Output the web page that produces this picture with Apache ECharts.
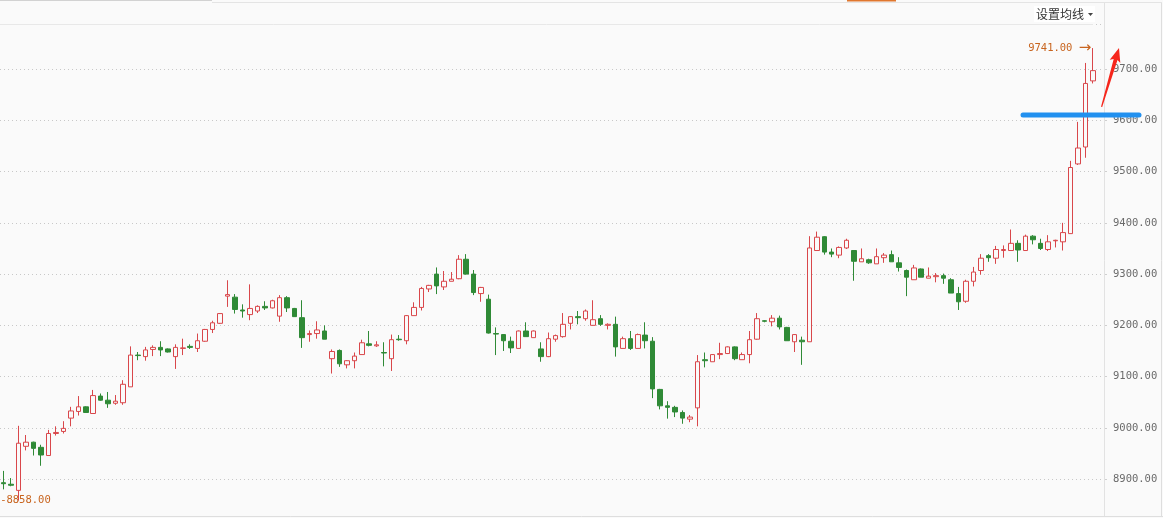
<!DOCTYPE html>
<html>
<head>
<meta charset="utf-8">
<style>
  html, body { margin: 0; padding: 0; background: #fafafa; }
  #kline { width: 1163px; height: 518px; }
</style>
<script src="https://cdn.jsdelivr.net/npm/echarts@6/dist/echarts.min.js"></script>
</head>
<body>
<div id="kline"></div>
<script>
// 开 / 收 / 低 / 高
const opens = [
  8893, 8890, 8878, 8964, 8972, 8962, 8946, 8989, 8993, 9019,
  9032, 9041, 9028, 9062, 9054, 9048, 9049, 9080, 9142, 9139,
  9153, 9157, 9154, 9139, 9155, 9159, 9155, 9169, 9192, 9204,
  9257, 9255, 9230, 9221, 9228, 9237, 9234, 9218, 9254, 9233,
  9215, 9182, 9184, 9189, 9135, 9151, 9123, 9131, 9143, 9164,
  9160, 9147, 9135, 9173, 9170, 9219, 9235, 9271, 9300, 9275,
  9286, 9291, 9329, 9300, 9262, 9251, 9184, 9182, 9169, 9155,
  9189, 9176, 9154, 9139, 9173, 9178, 9204, 9217, 9213, 9200,
  9213, 9200, 9202, 9155, 9174, 9155, 9181, 9169, 9075, 9043,
  9040, 9030, 9017, 9039, 9133, 9129, 9143, 9145, 9158, 9133,
  9143, 9173, 9209, 9207, 9214, 9196, 9168, 9171, 9168, 9346,
  9373, 9343, 9337, 9351, 9346, 9324, 9328, 9320, 9332, 9338,
  9322, 9307, 9289, 9310, 9292, 9295, 9297, 9289, 9262, 9247,
  9286, 9307, 9336, 9331, 9346, 9346, 9360, 9346, 9374, 9360,
  9348, 9365, 9363, 9379, 9515, 9548, 9677
];
const closes = [
  8891, 8888, 8970, 8972, 8960, 8947, 8989, 8991, 8999, 9033,
  9041, 9030, 9063, 9054, 9047, 9052, 9085, 9142, 9141, 9152,
  9157, 9152, 9148, 9157, 9156, 9157, 9170, 9192, 9205, 9223,
  9260, 9231, 9228, 9233, 9237, 9234, 9248, 9254, 9234, 9217,
  9176, 9184, 9191, 9173, 9149, 9125, 9131, 9140, 9166, 9161,
  9162, 9146, 9172, 9172, 9219, 9235, 9272, 9278, 9277, 9286,
  9290, 9329, 9300, 9264, 9274, 9185, 9183, 9170, 9156, 9189,
  9178, 9189, 9139, 9174, 9180, 9202, 9217, 9215, 9228, 9211,
  9202, 9202, 9158, 9174, 9155, 9182, 9170, 9076, 9043, 9040,
  9031, 9019, 9021, 9129, 9131, 9143, 9145, 9158, 9135, 9143,
  9172, 9213, 9208, 9214, 9197, 9170, 9182, 9168, 9351, 9372,
  9343, 9339, 9352, 9366, 9325, 9330, 9322, 9334, 9337, 9324,
  9313, 9294, 9312, 9294, 9296, 9297, 9292, 9263, 9246, 9286,
  9304, 9331, 9332, 9348, 9348, 9360, 9347, 9374, 9367, 9350,
  9363, 9366, 9381, 9508, 9546, 9672, 9697
];
const lows = [
  8880, 8886, 8858, 8956, 8946, 8926, 8946, 8985, 8989, 9003,
  9024, 9030, 9028, 9053, 9039, 9045, 9045, 9080, 9132, 9131,
  9140, 9140, 9147, 9115, 9142, 9154, 9148, 9168, 9185, 9203,
  9236, 9223, 9215, 9210, 9224, 9230, 9233, 9207, 9226, 9217,
  9156, 9168, 9174, 9173, 9106, 9119, 9116, 9116, 9143, 9159,
  9158, 9120, 9111, 9170, 9163, 9219, 9229, 9265, 9261, 9269,
  9286, 9290, 9299, 9259, 9246, 9184, 9142, 9150, 9146, 9155,
  9178, 9176, 9129, 9138, 9168, 9176, 9192, 9202, 9209, 9200,
  9199, 9192, 9139, 9155, 9152, 9155, 9155, 9058, 9036, 9018,
  9021, 9008, 9011, 9003, 9118, 9129, 9134, 9144, 9132, 9133,
  9126, 9172, 9206, 9198, 9192, 9170, 9148, 9123, 9168, 9346,
  9338, 9333, 9331, 9349, 9287, 9324, 9320, 9320, 9322, 9324,
  9305, 9257, 9289, 9294, 9292, 9284, 9281, 9263, 9230, 9244,
  9276, 9299, 9324, 9320, 9332, 9346, 9324, 9346, 9358, 9347,
  9345, 9352, 9346, 9379, 9513, 9527, 9672
];
const highs = [
  8916, 8902, 9004, 8986, 8973, 8967, 8996, 9003, 9013, 9041,
  9062, 9042, 9074, 9067, 9070, 9064, 9093, 9159, 9148, 9158,
  9161, 9169, 9155, 9163, 9174, 9163, 9184, 9193, 9209, 9224,
  9288, 9261, 9241, 9280, 9239, 9247, 9250, 9259, 9257, 9234,
  9249, 9190, 9208, 9200, 9153, 9153, 9132, 9147, 9172, 9189,
  9169, 9167, 9182, 9181, 9220, 9245, 9275, 9279, 9313, 9306,
  9304, 9337, 9339, 9308, 9275, 9260, 9196, 9183, 9178, 9190,
  9206, 9190, 9167, 9186, 9182, 9224, 9218, 9228, 9231, 9249,
  9220, 9204, 9217, 9178, 9189, 9184, 9206, 9177, 9076, 9052,
  9043, 9034, 9025, 9142, 9147, 9144, 9166, 9159, 9159, 9147,
  9189, 9224, 9210, 9220, 9219, 9197, 9183, 9178, 9374, 9383,
  9374, 9350, 9354, 9369, 9347, 9350, 9330, 9350, 9341, 9346,
  9333, 9309, 9318, 9311, 9313, 9302, 9301, 9292, 9275, 9289,
  9314, 9339, 9339, 9355, 9356, 9387, 9366, 9377, 9376, 9369,
  9376, 9367, 9400, 9521, 9597, 9712, 9741
];
// 最后多留一个空位
const categories = Array.from({ length: opens.length + 1 }, (_, i) => String(i + 1));

const monoFont = 'DejaVu Sans Mono';

let chart = echarts.init(document.getElementById('kline'));

let option = {
  animation: false,
  backgroundColor: '#fafafa',
  grid: { left: 0, right: 59, top: 24, bottom: 2 },
  xAxis: {
    type: 'category',
    data: categories,
    boundaryGap: true,
    axisLine: { show: false },
    axisTick: { show: false },
    axisLabel: { show: false },
    splitLine: { show: false }
  },
  yAxis: {
    type: 'value',
    position: 'right',
    min: 8828,
    max: 9788,
    splitNumber: 10,
    axisLine: { show: false },
    axisTick: { show: true, length: 3, lineStyle: { color: '#cfcfcf' } },
    axisLabel: {
      margin: 9,
      showMinLabel: false,
      showMaxLabel: false,
      color: '#6a6a6a',
      fontFamily: monoFont,
      fontSize: 10.5,
      formatter: v => v.toFixed(2)
    },
    splitLine: { lineStyle: { color: '#c8c8c8', type: [1, 3], width: 1 } }
  },
  series: [{
    type: 'candlestick',
    barWidth: 5,
    data: opens.map((o, i) => [o, closes[i], lows[i], highs[i]]),
    itemStyle: {
      color: '#fafafa',        // 阳线空心
      color0: '#2f8a36',
      borderColor: '#d9474b',
      borderColor0: '#2f8a36',
      borderWidth: 1
    },
    markPoint: {
      symbol: 'circle',
      symbolSize: 1,
      itemStyle: { color: 'rgba(0,0,0,0)' },
      label: { color: '#c8641e', fontFamily: monoFont, fontSize: 10.5 },
      data: [
        {
          type: 'max', valueDim: 'highest',
          label: {
            position: 'left', distance: 1,
            formatter: p => p.value.toFixed(2) + ' {a|\u2192}',
            rich: { a: { fontFamily: 'DejaVu Sans', fontSize: 15, color: '#c8641e' } }
          }
        },
        {
          type: 'min', valueDim: 'lowest',
          label: { position: 'right', distance: 0, offset: [-19, 0], formatter: p => '-' + p.value.toFixed(2) }
        }
      ]
    }
  }],
  graphic: [
    // 顶部边框
    { type: 'rect', z: 100, shape: { x: 0, y: 0, width: 212, height: 1 }, style: { fill: '#d2d2d2' } },
    { type: 'rect', z: 100, shape: { x: 212, y: 2, width: 950, height: 1 }, style: { fill: '#e4e4e4' } },
    { type: 'rect', z: 101, shape: { x: 847, y: 0, width: 49, height: 1.5 }, style: { fill: '#e0772e' } },
    { type: 'rect', z: 100, shape: { x: 0, y: 3, width: 1104, height: 21 }, style: { fill: '#fafafa' } },
    { type: 'line', z: 100, shape: { x1: 0, y1: 24.5, x2: 1093, y2: 24.5 }, style: { stroke: '#e8e8e8', lineWidth: 1 } },
    // 设置均线
    { type: 'rect', z: 101, shape: { x: 1034, y: 6, width: 61, height: 16 }, style: { fill: '#ffffff' } },
    {
      type: 'text', z: 102, x: 1036, y: 14,
      style: { text: '设置均线', font: '12px "Noto Sans CJK SC"', fill: '#333', verticalAlign: 'middle' }
    },
    { type: 'polygon', z: 102, shape: { points: [[1088, 13], [1093, 13], [1090.5, 16]] }, style: { fill: '#444' } },
    // 右侧竖线 / 边框 / 底边
    { type: 'line', z: 100, shape: { x1: 1104.5, y1: 3, x2: 1104.5, y2: 518 }, style: { stroke: '#e2e2e2', lineWidth: 1 } },
    { type: 'line', z: 100, shape: { x1: 1161.5, y1: 3, x2: 1161.5, y2: 518 }, style: { stroke: '#dedede', lineWidth: 1 } },
    { type: 'rect', z: 100, shape: { x: 0, y: 516, width: 1163, height: 2 }, style: { fill: '#fafafa' } },
    { type: 'line', z: 101, shape: { x1: 0, y1: 516.5, x2: 1163, y2: 516.5 }, style: { stroke: '#dedede', lineWidth: 1 } },
    // 手绘标注: 蓝线 + 红箭头
    {
      type: 'line', z: 110, shape: { x1: 1023, y1: 115, x2: 1139, y2: 115 },
      style: { stroke: '#2190ef', lineWidth: 5, lineCap: 'round' }
    },
    {
      type: 'polygon', z: 110,
      shape: { points: [[1101, 106.8], [1113.7, 58.9], [1109.7, 59.8], [1119, 48], [1120.3, 63], [1117.5, 60.1], [1102.2, 107.1]] },
      style: { fill: '#f6261c' }
    }
  ]
};

chart.setOption(option);
</script>
</body>
</html>
